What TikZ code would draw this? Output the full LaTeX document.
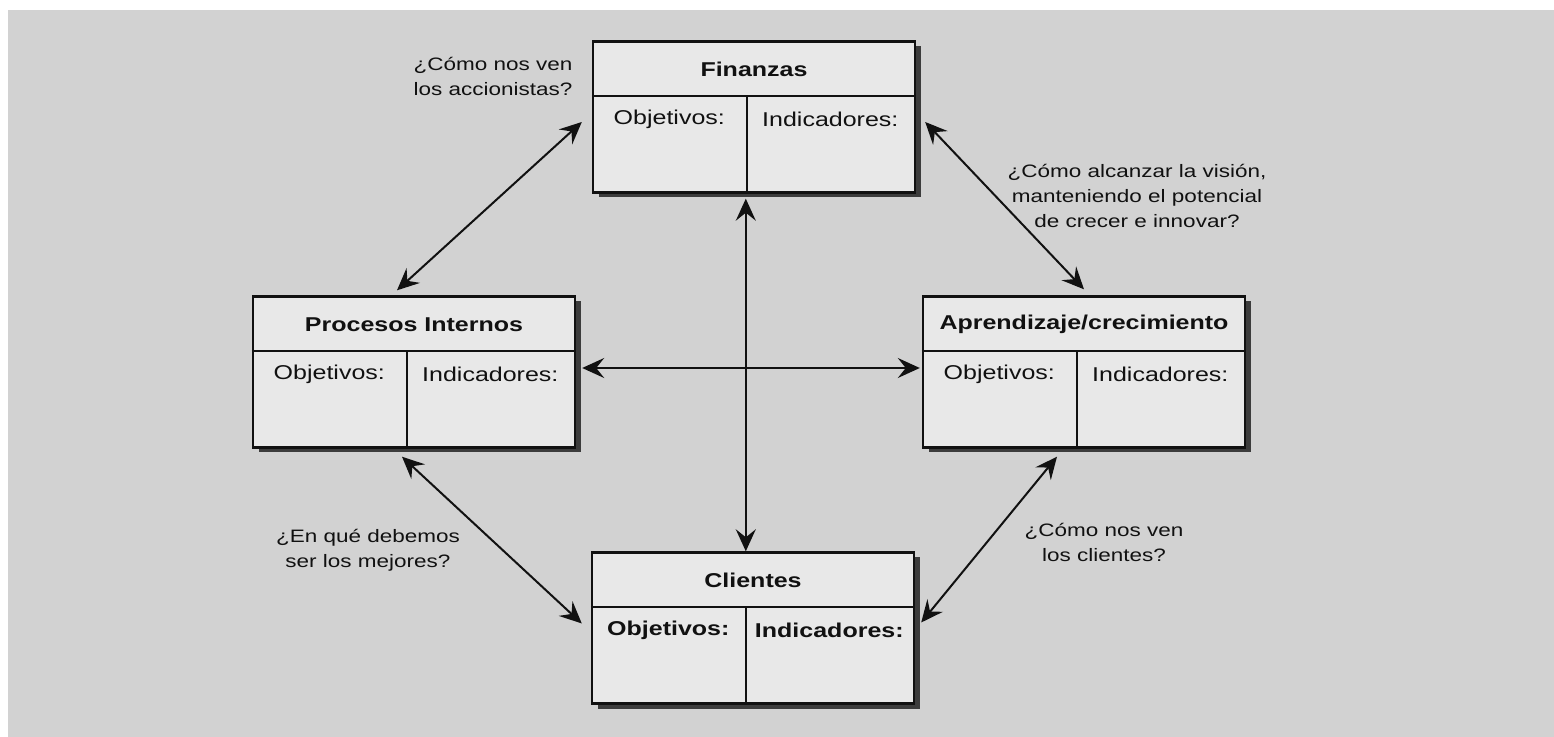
\documentclass[tikz,border=0pt]{standalone}
\usepackage{fontspec}
\setmainfont{Liberation Sans}[FakeStretch=1.25]
\usetikzlibrary{arrows.meta,positioning,calc,shadows}
\definecolor{cGround}{HTML}{D2D2D2}
\definecolor{cCard}{HTML}{E8E8E8}
\definecolor{cShade}{HTML}{3C3C3C}
\definecolor{cInk}{HTML}{111111}
\tikzset{
  >=Stealth,
  card/.style  ={draw=cInk,line width=1.2pt,fill=cCard,inner sep=0pt,
                 minimum width=161pt,minimum height=75.5pt,
                 drop shadow={shadow xshift=3pt,shadow yshift=-2.5pt,
                              fill=cShade,opacity=1}},
  rule/.style  ={draw=cInk,line width=1.1pt},
  ttl/.style   ={font=\bfseries,text=cInk},
  cell/.style  ={text=cInk,inner sep=1pt},
  ask/.style   ={align=center,text=cInk,font=\fontsize{9}{12.5}\selectfont},
  dbl/.style   ={{Stealth[length=11pt,width=10pt,inset=4pt]}-{Stealth[length=11pt,width=10pt,inset=4pt]},
                 line width=1pt,cInk},
}

\begin{document}
\begin{tikzpicture}[x=0.5pt,y=-0.5pt,every node/.style={font=\fontsize{9}{12}\selectfont}]
\useasboundingbox (0,0) rectangle (1554,737);
\fill[cGround] (8,10) rectangle (1554,737);

% the four perspectives
\node[card] (fin)  at (754,117)  {};
\node[card] (proc) at (414,372)  {};
\node[card] (apr)  at (1084,372) {};
\node[card] (cli)  at (753,628)  {};

\foreach \b/\f in {fin/,proc/,apr/,cli/\bfseries}{
  \draw[rule] ([yshift=-28pt]\b.north west) -- ([yshift=-28pt]\b.north east);
  \draw[rule] ([xshift=77.5pt,yshift=-28pt]\b.north west) -- ([xshift=77.5pt]\b.south west);
  \node[cell,font=\f] (\b-obj) at ([xshift=38.75pt,yshift=-39.5pt]\b.north west) {Objetivos:};
  \node[cell,font=\f] (\b-ind) at ([xshift=119.25pt,yshift=-39.5pt]\b.north west) {Indicadores:};
}

\node[ttl] (fin-t)  at ([yshift=-14.5pt]fin.north)  {Finanzas};
\node[ttl] (proc-t) at ([yshift=-14.5pt]proc.north) {Procesos Internos};
\node[ttl] (apr-t)  at ([yshift=-14.5pt]apr.north)  {Aprendizaje/crecimiento};
\node[ttl] (cli-t)  at ([yshift=-14.5pt]cli.north)  {Clientes};

% questions
\node[ask] (q-fin)  at (493,76)   {¿Cómo nos ven\\los accionistas?};
\node[ask] (q-apr)  at (1137,196) {¿Cómo alcanzar la visión,\\manteniendo el potencial\\de crecer e innovar?};
\node[ask] (q-proc) at (368,550)  {¿En qué debemos\\ser los mejores?};
\node[ask] (q-cli)  at (1104,542) {¿Cómo nos ven\\los clientes?};

% links
\draw[dbl] ([xshift=-8.5pt,yshift=2.5pt]proc.north) -- ([xshift=-5pt,yshift=-2.5pt]fin.west);
\draw[dbl] ([xshift=4.5pt,yshift=-2.5pt]fin.east) -- ([yshift=3pt]apr.north);
\draw[dbl] ([xshift=77pt,yshift=-2.5pt]fin.south west) -- ([xshift=77.5pt]cli.north west);
\draw[dbl] ([xshift=3pt,yshift=2pt]proc.east) -- ([xshift=-1pt,yshift=2pt]apr.west);
\draw[dbl] ([xshift=-6pt,yshift=-4pt]proc.south) -- ([xshift=-4.5pt,yshift=2.25pt]cli.west);
\draw[dbl] ([xshift=-13.5pt,yshift=-4pt]apr.south) -- ([xshift=3pt,yshift=2.75pt]cli.east);
\end{tikzpicture}
\end{document}
